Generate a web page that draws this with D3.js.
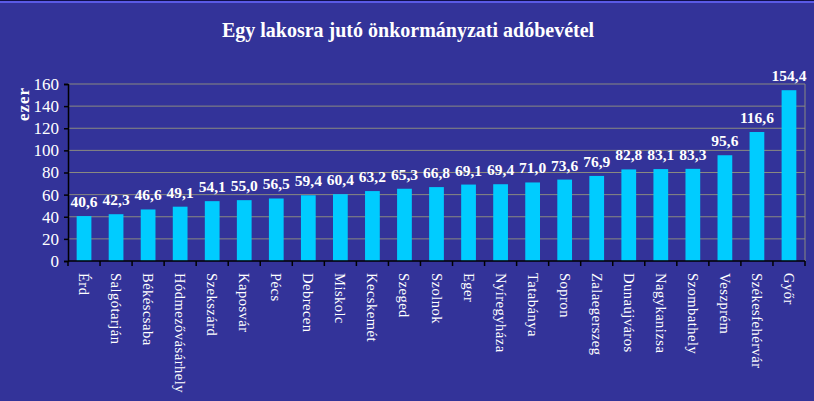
<!DOCTYPE html>
<html>
<head>
<meta charset="utf-8">
<script src="https://cdn.jsdelivr.net/npm/d3@7"></script>
<style>
  html, body { margin: 0; padding: 0; background: #333399; }
  svg { display: block; }
  text { font-family: "Liberation Serif", "Times New Roman", serif; fill: #ffffff; }
</style>
</head>
<body>
<div id="chart"></div>
<script>
// categories and values
const cities = ["Érd", "Salgótarján", "Békéscsaba", "Hódmezővásárhely", "Szekszárd",
  "Kaposvár", "Pécs", "Debrecen", "Miskolc", "Kecskemét", "Szeged", "Szolnok", "Eger",
  "Nyíregyháza", "Tatabánya", "Sopron", "Zalaegerszeg", "Dunaújváros", "Nagykanizsa",
  "Szombathely", "Veszprém", "Székesfehérvár", "Győr"];
const values = [40.6, 42.3, 46.6, 49.1, 54.1, 55.0, 56.5, 59.4, 60.4, 63.2, 65.3, 66.8,
  69.1, 69.4, 71.0, 73.6, 76.9, 82.8, 83.1, 83.3, 95.6, 116.6, 154.4];
const yTicks = [0, 20, 40, 60, 80, 100, 120, 140, 160];
const title = "Egy lakosra jutó önkormányzati adóbevétel";
const yTitle = "ezer";

const width = 814, height = 401;
const margin = { top: 84, right: 9, bottom: 140, left: 68 };

const svg = d3.select("#chart").append("svg")
  .attr("width", width)
  .attr("height", height);

svg.append("rect")
  .attr("width", width).attr("height", height)
  .attr("fill", "#333399");

// thin frame line at the top edge
svg.append("rect").attr("x", 0).attr("y", 0).attr("width", width).attr("height", 1).attr("fill", "#10104a");
svg.append("rect").attr("x", 0).attr("y", 1).attr("width", width).attr("height", 2).attr("fill", "#5a5ae6");

const x = d3.scaleBand()
  .domain(cities)
  .range([margin.left, width - margin.right])
  .paddingInner(0.54)
  .paddingOuter(0.27);

const y = d3.scaleLinear()
  .domain([0, 160])
  .range([height - margin.bottom, margin.top]);

// gridlines
svg.append("g")
  .selectAll("line")
  .data(yTicks.filter(d => d > 0))
  .join("line")
  .attr("x1", margin.left)
  .attr("x2", width - margin.right)
  .attr("y1", d => y(d))
  .attr("y2", d => y(d))
  .attr("stroke", "#8a8a80")
  .attr("stroke-width", 1);

// right border of plot area
svg.append("line")
  .attr("x1", width - margin.right).attr("x2", width - margin.right)
  .attr("y1", y(160)).attr("y2", y(0))
  .attr("stroke", "#8a8a80");

// bars
svg.append("g")
  .selectAll("rect")
  .data(values)
  .join("rect")
  .attr("x", (d, i) => x(cities[i]))
  .attr("y", d => y(d))
  .attr("width", x.bandwidth())
  .attr("height", d => y(0) - y(d))
  .attr("fill", "#00ccff");

// value labels
svg.append("g")
  .selectAll("text")
  .data(values)
  .join("text")
  .attr("x", (d, i) => x(cities[i]) + x.bandwidth() / 2)
  .attr("y", d => y(d) - 9)
  .attr("text-anchor", "middle")
  .style("font-size", "15.5px")
  .style("font-weight", "bold")
  .text(d => d3.format(".1f")(d).replace(".", ","));

// y axis
const yAxis = svg.append("g")
  .attr("transform", "translate(" + margin.left + ",0)")
  .call(d3.axisLeft(y).tickValues(yTicks).tickSize(4).tickPadding(5).tickFormat(d3.format("d")));
yAxis.select(".domain").attr("stroke", "#000").attr("stroke-width", 1.5);
yAxis.selectAll(".tick line").attr("stroke", "#000").attr("stroke-width", 1.5);
yAxis.selectAll(".tick text")
  .style("font-size", "17px")
  .style("font-family", "'Liberation Serif', serif")
  .attr("fill", "#fff");

// x axis with ticks between categories
const xAxis = svg.append("g")
  .attr("transform", "translate(0," + y(0) + ")");
xAxis.append("line")
  .attr("x1", margin.left).attr("x2", width - margin.right)
  .attr("stroke", "#000").attr("stroke-width", 1.5);
xAxis.selectAll("line.sep")
  .data(d3.range(cities.length + 1))
  .join("line")
  .attr("class", "sep")
  .attr("x1", i => margin.left + i * (width - margin.left - margin.right) / cities.length)
  .attr("x2", i => margin.left + i * (width - margin.left - margin.right) / cities.length)
  .attr("y1", 0).attr("y2", 5)
  .attr("stroke", "#000").attr("stroke-width", 1.5);

xAxis.selectAll("text")
  .data(cities)
  .join("text")
  .attr("transform", d => "translate(" + (x(d) + x.bandwidth() / 2 - 5) + ",12) rotate(90)")
  .attr("text-anchor", "start")
  .style("font-size", "14.5px")
  .style("letter-spacing", "0.5px")
  .text(d => d);

// y axis title
svg.append("text")
  .attr("transform", "translate(29,104) rotate(-90)")
  .attr("text-anchor", "middle")
  .style("font-size", "17px")
  .style("font-weight", "bold")
  .style("letter-spacing", "1px")
  .text(yTitle);

// chart title
svg.append("text")
  .attr("x", 408)
  .attr("y", 37)
  .attr("text-anchor", "middle")
  .style("font-size", "20px")
  .style("font-weight", "bold")
  .text(title);
</script>
</body>
</html>
